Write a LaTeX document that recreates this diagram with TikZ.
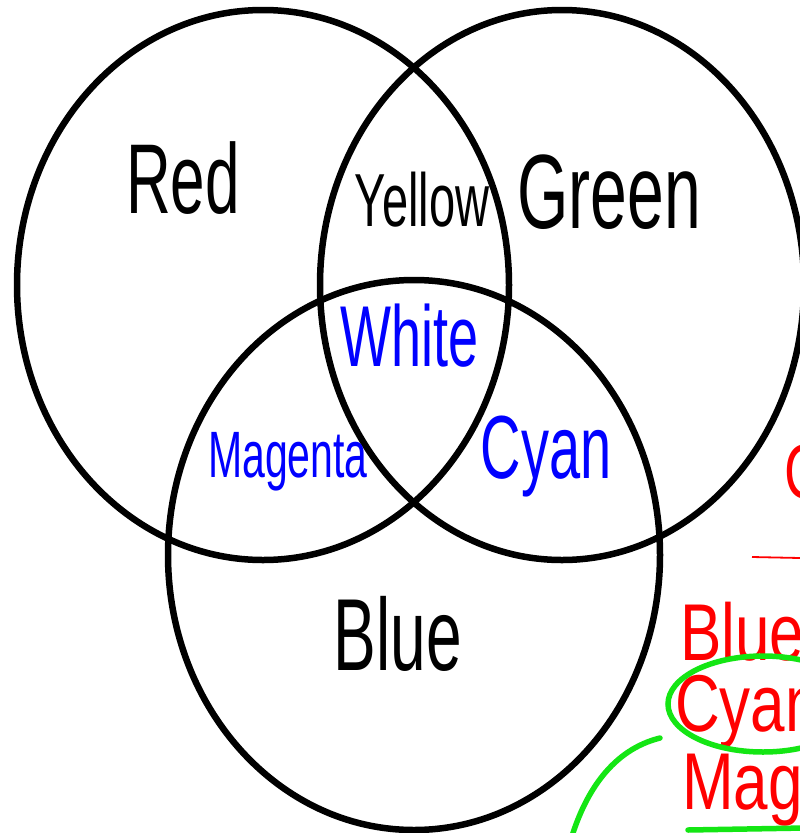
\documentclass[tikz,border=0pt]{standalone}
\usepackage{fontspec}
\usepackage{graphicx}
\usetikzlibrary{shapes.geometric}
\setmainfont{Liberation Sans}
\newcommand\hw[3][1.6]{\fontsize{#2}{#2}\selectfont\scalebox{1}[#1]{#3}}
\definecolor{penblue}{RGB}{0,0,255}
\definecolor{penred}{RGB}{255,0,0}
\definecolor{pengreen}{RGB}{20,230,20}
\tikzset{
  ring/.style={line width=6.5pt, black},
  hand/.style={inner sep=0pt, outer sep=0pt},
  gstroke/.style={line width=5.5pt, pengreen, line cap=round},
}
\begin{document}
\begin{tikzpicture}[x=1pt,y=-1pt]
\useasboundingbox (0,0) rectangle (800,833);
\clip (0,0) rectangle (800,833);
\fill[white] (0,0) rectangle (800,833);
% circles
\draw[ring] (263,285) ellipse [x radius=246pt, y radius=275pt];
\draw[ring] (562,285) ellipse [x radius=242pt, y radius=275pt];
\draw[ring] (414,555) ellipse [x radius=246pt, y radius=275pt];
% labels
\node[hand] (red) at (183,178) {\hw{62}{Red}};
\node[hand] (yellow) at (422,200) {\hw{47}{Yellow}};
\node[hand] (green) at (609,192) {\hw{66}{Green}};
\node[hand, text=penblue] (white) at (410,336) {\hw{54}{White}};
\node[hand, text=penblue] (magenta) at (288,462) {\hw{41}{Magenta}};
\node[hand, text=penblue] (cyan) at (546,457) {\hw{56}{Cyan}};
\node[hand] (blue) at (398,634) {\hw{64}{Blue}};
% right-hand notes
\node[hand, anchor=west, text=penred] (rc) at (784,472) {\hw[1.4]{55}{C}};
\coordinate (la) at (752,557);
\coordinate (lb) at (800,558);
\draw[penred, line width=1.8pt] (la) -- (lb);
\node[hand, anchor=west, text=penred] (rblue) at (680,632) {\hw[1.3]{62}{Blue}};
\node[hand, anchor=west, text=penred] (rcyan) at (675,712) {\hw[1.3]{62}{Cyan}};
\node[hand, anchor=west, text=penred] (rmag) at (682,790) {\hw[1.3]{62}{Mag}};
% green marks
\node[gstroke, draw, ellipse, minimum width=190pt, minimum height=96pt] (gring) at (763,704) {};
\coordinate (g1) at (660,738);
\coordinate (g2) at (572,836);
\draw[gstroke] (g1) .. controls (612,750) and (586,792) .. (g2);
\coordinate (g3) at (688,830);
\coordinate (g4) at (805,828);
\draw[gstroke] (g3) -- (g4);
\end{tikzpicture}
\end{document}
